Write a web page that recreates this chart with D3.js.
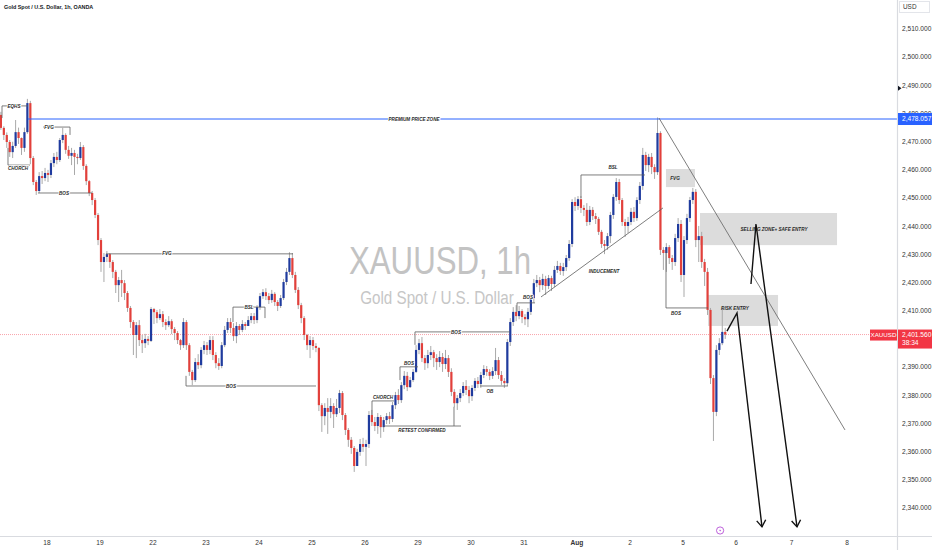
<!DOCTYPE html>
<html><head><meta charset="utf-8">
<script src="https://cdn.jsdelivr.net/npm/d3@7"></script>
<style>html,body{margin:0;padding:0;background:#fff;overflow:hidden}svg{display:block;font-family:"Liberation Sans",Arial,sans-serif}</style>
</head><body><svg id="c" width="932" height="550"></svg>
<script>
// ---------------- data ----------------
const dayLabels = ["18","19","22","23","24","25","26","29","30","31","Aug","2","5","6","7","8"];
const priceTicks = d3.range(2340, 2511, 10);
const candleStart = -0.87;      // in trading days relative to the "18" label
const candlesPerDay = 18;
const firstOpen = 2479.5;
const closes = [2474.9,2472.4,2469.9,2466.3,2468.5,2473.4,2471.3,2467.8,2473.4,2483.7,
2464.2,2455.7,2452.5,2457.8,2457.1,2458.9,2458.2,2462.4,2464.6,2463.5,
2470.6,2472.4,2467.1,2465.0,2466.0,2464.6,2464.2,2468.1,2461.4,2456.0,
2451.8,2449.3,2444.0,2435.1,2427.3,2429.1,2430.1,2427.3,2423.8,2419.1,
2420.9,2419.8,2416.3,2411.0,2406.0,2401.4,2404.9,2399.6,2398.5,2400.0,
2399.3,2410.6,2409.5,2407.4,2408.8,2406.0,2404.9,2406.3,2403.5,2402.1,
2399.6,2397.8,2406.0,2397.8,2388.3,2385.4,2391.8,2390.7,2396.1,2397.8,
2396.1,2399.6,2394.3,2391.4,2390.4,2397.8,2403.2,2406.0,2403.9,2401.0,
2404.6,2403.2,2405.3,2404.6,2406.7,2408.1,2406.7,2411.3,2415.2,2416.6,
2415.2,2413.8,2416.0,2413.1,2411.7,2414.5,2420.2,2423.8,2428.7,2422.7,
2417.4,2412.0,2407.4,2401.4,2397.8,2399.6,2397.5,2396.8,2376.5,2372.6,
2375.5,2374.1,2376.2,2373.3,2375.5,2380.8,2373.0,2367.7,2364.2,2361.3,
2354.9,2359.9,2362.7,2361.7,2362.7,2373.0,2370.5,2369.1,2372.3,2368.7,
2371.2,2372.6,2371.6,2376.5,2380.1,2378.3,2383.6,2386.9,2382.9,2385.4,
2388.3,2396.1,2398.5,2393.2,2391.4,2394.3,2395.3,2393.2,2391.8,2393.6,
2391.1,2393.2,2388.3,2381.2,2377.2,2379.0,2380.8,2383.3,2381.9,2379.7,
2382.6,2385.1,2384.0,2387.2,2389.3,2388.3,2386.9,2388.6,2392.5,2387.2,
2385.1,2384.3,2398.9,2406.0,2409.6,2408.1,2409.9,2407.8,2407.0,2409.6,
2414.5,2419.8,2420.9,2419.1,2421.3,2418.8,2421.6,2419.5,2424.5,2425.9,
2424.1,2425.5,2428.7,2433.7,2448.6,2447.2,2449.6,2446.5,2445.8,2441.5,
2445.8,2443.6,2442.6,2438.0,2433.7,2433.0,2436.5,2444.0,2450.4,2455.7,
2449.3,2441.5,2440.1,2441.5,2445.1,2442.9,2449.3,2454.3,2465.3,2461.7,
2464.6,2461.0,2459.2,2473.1,2431.6,2430.5,2432.6,2428.7,2427.3,2435.8,
2440.8,2422.7,2435.1,2442.9,2449.3,2452.2,2435.1,2436.5,2427.3,2423.8,
2410.3,2386.1,2374.1,2396.1,2398.5,2402.5,2401.56];
const highs = [2480.6,2475.5,2473.3,2470.6,2470.0,2477.7,2475.0,2471.5,2475.0,2485.2,
2484.5,2464.9,2456.4,2459.2,2459.6,2460.7,2460.0,2463.5,2466.0,2466.4,
2471.3,2474.9,2473.0,2468.5,2467.8,2467.1,2465.7,2469.9,2468.8,2462.0,
2456.4,2452.5,2450.0,2444.7,2435.8,2430.5,2431.2,2430.5,2428.0,2424.5,
2422.0,2424.5,2420.9,2417.0,2411.7,2406.7,2406.0,2406.7,2401.4,2401.8,
2401.0,2411.3,2411.0,2410.3,2410.6,2409.9,2407.0,2408.1,2407.0,2404.2,
2402.8,2400.0,2407.4,2406.7,2398.5,2389.0,2393.2,2394.6,2397.1,2399.3,
2398.9,2401.0,2401.0,2395.3,2393.2,2398.9,2404.6,2407.4,2407.4,2405.6,
2406.0,2405.3,2406.7,2406.0,2408.1,2409.2,2409.2,2412.0,2416.3,2417.7,
2418.0,2416.3,2417.4,2416.6,2413.8,2415.6,2421.3,2425.2,2430.8,2430.5,
2423.8,2418.4,2412.8,2408.1,2401.8,2401.0,2400.7,2398.5,2397.1,2377.2,
2377.2,2379.0,2379.0,2377.2,2378.7,2381.9,2381.5,2373.7,2368.4,2365.2,
2362.0,2361.0,2364.5,2364.9,2364.2,2374.4,2374.8,2372.3,2373.7,2373.0,
2372.3,2373.7,2374.1,2377.6,2381.2,2382.2,2384.7,2388.6,2388.3,2386.5,
2389.3,2397.8,2400.0,2400.7,2394.3,2396.1,2397.5,2396.1,2394.6,2395.7,
2395.0,2396.1,2394.3,2389.6,2382.2,2380.1,2382.2,2384.7,2385.4,2383.3,
2383.6,2386.1,2386.5,2388.3,2390.7,2390.4,2389.3,2390.0,2396.8,2393.6,
2388.6,2386.1,2400.0,2407.4,2411.3,2412.0,2411.7,2410.6,2408.8,2411.0,
2415.6,2421.3,2422.7,2422.0,2423.1,2422.4,2422.7,2422.4,2425.9,2427.7,
2427.0,2427.0,2429.8,2435.1,2449.6,2450.3,2450.7,2450.7,2447.5,2448.2,
2447.2,2446.8,2444.7,2443.3,2438.7,2435.1,2437.6,2445.1,2451.4,2457.1,
2456.8,2450.0,2442.6,2443.3,2446.5,2446.8,2450.3,2455.7,2467.8,2466.4,
2465.7,2466.0,2462.0,2478.6,2473.7,2432.6,2434.0,2433.3,2429.8,2437.3,
2442.9,2442.2,2436.5,2444.4,2450.4,2453.6,2453.2,2440.1,2438.0,2428.4,
2425.2,2411.0,2387.2,2397.8,2400.3,2411.3,2403.9];
const lows = [2474.2,2470.6,2467.8,2464.6,2464.2,2467.8,2469.2,2465.3,2466.4,2472.8,
2462.0,2454.6,2451.1,2451.8,2455.0,2456.0,2455.7,2457.1,2461.0,2462.0,
2462.8,2469.5,2465.7,2463.9,2461.7,2458.2,2462.0,2463.5,2460.0,2454.6,
2450.7,2447.5,2442.9,2433.3,2423.8,2420.2,2427.3,2425.2,2421.6,2416.3,
2413.1,2414.9,2413.8,2409.6,2403.9,2394.3,2393.2,2397.5,2395.0,2396.8,
2397.8,2398.9,2405.3,2405.6,2406.7,2404.2,2403.2,2404.2,2401.7,2399.6,
2398.2,2396.1,2396.8,2396.1,2386.9,2383.6,2384.7,2389.3,2389.6,2394.6,
2394.3,2394.6,2392.5,2389.6,2389.0,2389.6,2397.1,2402.1,2402.1,2399.3,
2398.5,2401.4,2402.4,2403.2,2404.9,2405.6,2405.3,2405.6,2410.3,2414.2,
2413.8,2412.4,2412.8,2411.7,2409.9,2411.0,2413.8,2419.1,2422.7,2421.6,
2416.3,2410.6,2405.6,2399.6,2396.1,2393.2,2396.1,2395.3,2374.4,2367.0,
2369.4,2366.3,2371.9,2368.4,2372.3,2373.7,2371.2,2365.9,2361.7,2359.2,
2352.8,2355.3,2358.5,2359.9,2354.9,2361.3,2369.1,2367.3,2366.3,2364.9,
2367.0,2369.8,2369.8,2370.5,2375.1,2376.9,2377.3,2382.2,2381.5,2382.6,
2384.7,2387.9,2394.6,2391.8,2389.0,2389.6,2392.5,2390.0,2389.0,2390.0,
2388.3,2389.3,2386.5,2379.7,2375.8,2374.8,2377.6,2379.7,2380.1,2377.2,
2378.0,2381.5,2382.6,2382.6,2386.1,2386.9,2385.4,2385.8,2387.2,2385.8,
2383.6,2382.6,2383.3,2397.5,2404.6,2406.3,2407.0,2405.6,2404.9,2404.2,
2408.5,2412.8,2418.4,2416.6,2417.4,2415.6,2417.7,2417.0,2418.4,2423.4,
2422.7,2422.4,2424.1,2427.7,2432.6,2445.4,2445.8,2444.7,2443.6,2440.1,
2440.4,2442.2,2440.8,2436.9,2432.3,2430.1,2431.6,2434.0,2442.6,2449.0,
2447.9,2440.1,2436.2,2437.6,2440.4,2441.5,2441.9,2447.9,2452.9,2459.6,
2459.2,2458.5,2456.8,2458.2,2429.8,2424.5,2423.8,2426.6,2424.5,2425.9,
2434.4,2420.2,2414.9,2433.7,2441.5,2447.9,2432.6,2427.3,2425.2,2418.8,
2408.5,2384.0,2363.8,2372.6,2394.3,2397.8,2400.0];
const premiumPrice = 2478.057;
const lastPrice = 2401.56;
const countdown = "38:34";
const symbol = "XAUUSD";
const title = "Gold Spot / U.S. Dollar, 1h, OANDA";

// drawings in (trading-day, price) units
const drawSegments = [
  [-0.849,2478.4,-0.849,2482.7],[-0.849,2482.7,-0.358,2482.7],
  [-0.075,2475.2,0.434,2475.2],[0.434,2475.2,0.434,2472.4],
  [-0.736,2467.8,-0.736,2461.7],[-0.736,2461.7,-0.321,2461.7],
  [-0.170,2451.8,0.849,2451.8],
  [1.113,2430.2,4.642,2430.2],
  [3.509,2406.0,3.509,2411.3],[3.509,2411.3,4.113,2411.3],[4.113,2411.3,4.113,2407.4],
  [2.623,2386.9,2.623,2383.3],[2.623,2383.3,5.075,2383.3],
  [6.132,2373.0,6.132,2378.0],[6.132,2378.0,6.547,2378.0],
  [7.679,2375.9,7.679,2369.1],[6.340,2369.1,7.811,2369.1],
  [6.660,2385.4,6.660,2390.1],[6.660,2390.1,7.000,2390.1],
  [6.943,2397.9,6.943,2402.5],[6.943,2402.5,8.736,2402.5],
  [8.170,2383.3,8.698,2383.3],
  [8.868,2409.6,8.868,2412.8],[8.868,2412.8,9.208,2412.8],
  [10.075,2450.0,10.075,2458.2],[10.075,2458.2,11.283,2458.2],
  [9.321,2414.9,11.623,2446.5],
  [11.679,2431.6,11.679,2411.0],[11.679,2411.0,12.472,2411.0]
];
const drawLabels = [
  ["EQHS",-0.623,2482.7],["FVG",0.038,2475.2],["CHORCH",-0.547,2460.4],["BOS",0.321,2451.8],
  ["FVG",2.264,2430.2],["BSL",3.811,2411.3],["BOS",3.472,2383.3],["CHORCH",6.340,2379.2],
  ["RETEST CONFIRMED",7.075,2367.4],["BOS",6.830,2391.2],["BOS",7.717,2402.3],["OB",8.358,2381.3],
  ["BOS",9.075,2414.6],["BSL",10.679,2460.8],["INDUCEMENT",10.509,2424.1],["BOS",11.868,2409.2],
  ["PREMIUM PRICE ZONE",6.925,2478.06]
];
const zones = [
  ["FVG",11.679,2460.3,12.226,2453.9, 11.849,2457.1],
  ["SELLING ZONE+ SAFE ENTRY",12.321,2444.7,14.820,2433.3, 13.685,2439.0],
  ["RISK ENTRY",12.472,2415.6,13.757,2404.6, 12.981,2411.0]
];
const trendLine = [11.547,2478.4,14.964,2367.7];
const arrowPaths = [
  [[12.830,2402.8],[13.018,2409.2],[13.468,2333.3]],
  [[13.270,2419.5],[13.360,2440.8],[14.099,2333.3]]
];

// ---------------- drawing ----------------
const W = 932, H = 550, plotR = 897, axisB = 536;
const svg = d3.select("#c");
const x = d3.scaleLinear().domain([0, 13, 15]).range([47, 736, 847]);
const y = d3.scaleLinear().domain([2340, 2510]).range([508, 29]);

svg.append("rect").attr("width", W).attr("height", H).attr("fill", "#fff");
svg.append("defs").append("clipPath").attr("id", "plot")
  .append("rect").attr("x", 0).attr("y", 0).attr("width", plotR).attr("height", axisB);
const plot = svg.append("g").attr("clip-path", "url(#plot)");

// watermark (natural width, stretched vertically)
plot.append("g").attr("transform", "translate(440,274) scale(1,1.25)")
  .append("text").attr("text-anchor", "middle")
  .attr("font-size", 31.2).attr("fill", "#c3c3c3").text(symbol + ", 1h");
plot.append("g").attr("transform", "translate(437,304) scale(1,1.22)")
  .append("text").attr("text-anchor", "middle")
  .attr("font-size", 15.2).attr("fill", "#c6c6c6").text("Gold Spot / U.S. Dollar");

// zones
zones.forEach(z => {
  plot.append("rect").attr("x", x(z[1])).attr("y", y(z[2]))
    .attr("width", x(z[3]) - x(z[1])).attr("height", y(z[4]) - y(z[2]))
    .attr("fill", "#d6d6d6").attr("fill-opacity", 0.85);
});

// price line
plot.append("line").attr("x1", 0).attr("x2", plotR).attr("y1", y(lastPrice)).attr("y2", y(lastPrice))
  .attr("stroke", "#f23645").attr("stroke-opacity", 0.45).attr("stroke-width", 1).attr("stroke-dasharray", "1,1");

// candles
const candles = closes.map((c, i) => {
  const o = i === 0 ? firstOpen : closes[i - 1];
  return { t: candleStart + i / candlesPerDay, o, c, h: Math.max(highs[i], o, c), l: Math.min(lows[i], o, c) };
});
const cg = plot.append("g");
cg.selectAll("line.w").data(candles).join("line").attr("class", "w")
  .attr("x1", d => x(d.t)).attr("x2", d => x(d.t))
  .attr("y1", d => y(d.h)).attr("y2", d => y(d.l))
  .attr("stroke", "#a9a9a9").attr("stroke-width", 1);
cg.selectAll("rect").data(candles).join("rect")
  .attr("x", d => x(d.t) - 1.1).attr("width", 2.2)
  .attr("y", d => y(Math.max(d.o, d.c)))
  .attr("height", d => Math.max(1, Math.abs(y(d.o) - y(d.c))))
  .attr("fill", d => d.c >= d.o ? "#1f3b9e" : "#e2403b");

// premium line
plot.append("line").attr("x1", x(-0.358)).attr("x2", plotR).attr("y1", y(premiumPrice)).attr("y2", y(premiumPrice))
  .attr("stroke", "#2962ff").attr("stroke-width", 1);

// drawings
const dg = plot.append("g");
drawSegments.forEach(s => {
  dg.append("line").attr("x1", x(s[0])).attr("y1", y(s[1])).attr("x2", x(s[2])).attr("y2", y(s[3]))
    .attr("stroke", "#5d5d5d").attr("stroke-width", 0.8);
});
dg.append("line").attr("x1", x(trendLine[0])).attr("y1", y(trendLine[1])).attr("x2", x(trendLine[2])).attr("y2", y(trendLine[3]))
  .attr("stroke", "#6f6f6f").attr("stroke-width", 0.9);
drawLabels.forEach(l => {
  dg.append("text").attr("x", x(l[1])).attr("y", y(l[2])).attr("text-anchor", "middle").attr("dy", "0.35em")
    .attr("font-size", 4.6).attr("font-weight", "bold").attr("font-style", "italic").attr("fill", "#2a2a2a")
    .attr("stroke", "#fff").attr("stroke-width", 1.6).attr("paint-order", "stroke").text(l[0]);
});
zones.forEach(z => {
  dg.append("text").attr("x", x(z[5])).attr("y", y(z[6])).attr("text-anchor", "middle").attr("dy", "0.35em")
    .attr("font-size", 4.6).attr("font-weight", "bold").attr("font-style", "italic").attr("fill", "#2a2a2a").text(z[0]);
});
// arrows
arrowPaths.forEach(p => {
  const pts = p.map(q => [x(q[0]), y(q[1])]);
  dg.append("path").attr("d", d3.line()(pts)).attr("fill", "none").attr("stroke", "#111").attr("stroke-width", 1.4);
  const a = pts[pts.length - 1], b = pts[pts.length - 2];
  const ang = Math.atan2(a[1] - b[1], a[0] - b[0]);
  const L = 8, sp = 0.6;
  const head = [[a[0] - L * Math.cos(ang - sp), a[1] - L * Math.sin(ang - sp)], a, [a[0] - L * Math.cos(ang + sp), a[1] - L * Math.sin(ang + sp)]];
  dg.append("path").attr("d", d3.line()(head)).attr("fill", "none").attr("stroke", "#111").attr("stroke-width", 1.4);
});

// header
svg.append("text").attr("x", 4).attr("y", 9).attr("font-size", 5.4).attr("font-weight", "bold").attr("fill", "#131722").text(title);

// axes frames
svg.append("line").attr("x1", plotR + 0.5).attr("x2", plotR + 0.5).attr("y1", 0).attr("y2", H).attr("stroke", "#d9dbe0").attr("stroke-width", 1.2);
svg.append("line").attr("x1", 0).attr("x2", W).attr("y1", axisB + 0.5).attr("y2", axisB + 0.5).attr("stroke", "#d9dbe0").attr("stroke-width", 1.2);

// y axis labels (the one under the last-price tag is hidden, as in TradingView)
const fmt = d3.format(",.3f");
const ly = y(lastPrice);
svg.append("g").selectAll("text").data(priceTicks.filter(d => Math.abs(y(d) - (ly + 4.5)) > 12)).join("text")
  .attr("x", 902).attr("y", d => y(d)).attr("dy", "0.35em").attr("font-size", 6.6).attr("fill", "#333")
  .text(d => fmt(d));
// x axis labels
svg.append("g").selectAll("text").data(dayLabels).join("text")
  .attr("x", (d, i) => x(i)).attr("y", 543).attr("dy", "0.35em").attr("text-anchor", "middle")
  .attr("font-size", 6.6).attr("fill", "#333").attr("font-weight", d => d === "Aug" ? "bold" : "normal")
  .text(d => d);

// USD box
svg.append("rect").attr("x", 899.5).attr("y", 1.5).attr("width", 30).attr("height", 11).attr("fill", "#fff").attr("stroke", "#e3e5ea");
svg.append("text").attr("x", 903).attr("y", 7).attr("dy", "0.35em").attr("font-size", 6.4).attr("fill", "#333").text("USD");
// marker triangle
svg.append("path").attr("d", `M898,${y(2489) - 2.5}L901.5,${y(2489)}L898,${y(2489) + 2.5}Z`).attr("fill", "#131722");

// premium tag
svg.append("rect").attr("x", 898).attr("y", y(premiumPrice) - 6).attr("width", 34).attr("height", 12).attr("fill", "#2962ff");
svg.append("text").attr("x", 902).attr("y", y(premiumPrice)).attr("dy", "0.35em").attr("font-size", 6.6).attr("fill", "#fff").text(fmt(premiumPrice));
// last price tag
svg.append("rect").attr("x", 898).attr("y", ly - 5).attr("width", 34).attr("height", 19).attr("fill", "#f23645");
svg.append("text").attr("x", 902).attr("y", ly + 0.5).attr("dy", "0.35em").attr("font-size", 6.6).attr("fill", "#fff").text(fmt(lastPrice));
svg.append("text").attr("x", 902).attr("y", ly + 8.5).attr("dy", "0.35em").attr("font-size", 6.6).attr("fill", "#fff").text(countdown);
svg.append("rect").attr("x", 870).attr("y", ly - 5).attr("width", 27).attr("height", 11).attr("fill", "#f23645");
svg.append("text").attr("x", 883.5).attr("y", ly + 0.5).attr("dy", "0.35em").attr("text-anchor", "middle").attr("font-size", 6.2).attr("fill", "#fff").text(symbol);

// purple event icon
const ic = svg.append("g").attr("transform", `translate(${x(12.7)},530.5)`);
ic.append("circle").attr("r", 3.6).attr("fill", "#fff").attr("stroke", "#b64fd6").attr("stroke-width", 0.9);
ic.append("path").attr("d", "M0.6,-2.2L-1,0.3L0.3,0.3L-0.6,2.2L1.1,-0.4L-0.2,-0.4Z").attr("fill", "#b64fd6");
</script></body></html>
